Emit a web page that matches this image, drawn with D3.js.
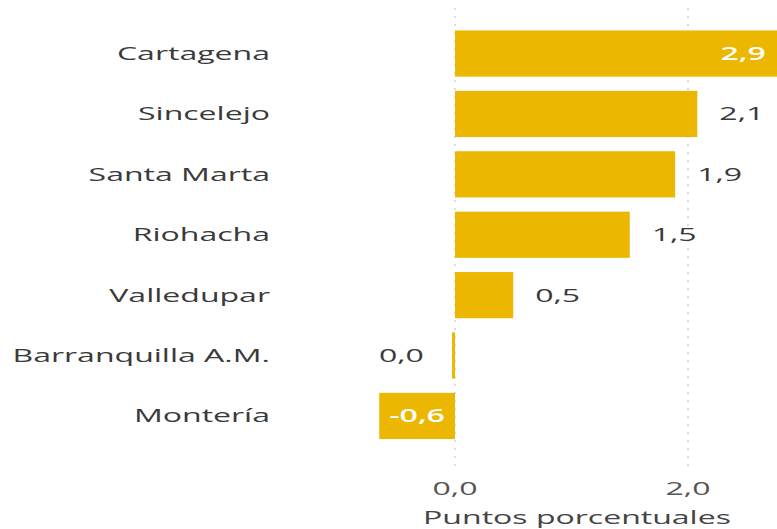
<!DOCTYPE html>
<html><head><meta charset="utf-8">
<script src="https://cdn.jsdelivr.net/npm/d3@7"></script>
<style>
html,body{margin:0;padding:0;background:#fff;}
svg{display:block;}
text{font-family:"Open Sans",sans-serif;}
</style></head>
<body>
<script>
const categories = ["Cartagena","Sincelejo","Santa Marta","Riohacha","Valledupar","Barranquilla A.M.","Montería"];
const values = [2.9, 2.08, 1.89, 1.5, 0.5, -0.01, -0.65];
const valueLabels = ["2,9","2,1","1,9","1,5","0,5","0,0","-0,6"];
const labelInside = [true,false,false,false,false,false,true];
const tickValues = [0, 2];
const tickLabels = ["0,0","2,0"];
const axisTitle = "Puntos porcentuales";

const W = 777, H = 529;
const SX = 1.78;
const svg = d3.select("body").append("svg").attr("width", W).attr("height", H);

const x = d3.scaleLinear().domain([0, 2]).range([455, 688]);
const y = d3.scaleBand().domain(categories).range([23.5, 446]).paddingInner(0.235).paddingOuter(0.115);

function stext(g, tx, ty, str, anchor, size, fill, weight){
  return g.append("text")
    .attr("transform", `translate(${tx},${ty}) scale(${SX},1)`)
    .attr("text-anchor", anchor)
    .attr("font-size", size)
    .attr("fill", fill)
    .attr("font-weight", weight || 400)
    .text(str);
}

// gridlines
const grid = svg.append("g");
tickValues.forEach(t => {
  grid.append("line")
    .attr("x1", x(t)).attr("x2", x(t))
    .attr("y1", 8).attr("y2", 466)
    .attr("stroke", "#c8c8c8").attr("stroke-width", 1.2)
    .attr("stroke-dasharray", "2,6");
});

const color = "#EBB700";
const data = categories.map((c,i)=>({c, v:values[i], l:valueLabels[i], inside:labelInside[i]}));

svg.append("g").selectAll("rect").data(data).join("rect")
  .attr("x", d => Math.min(x(d.v), x(0)) - (Math.abs(x(d.v)-x(0))<3 ? 3 - Math.abs(x(d.v)-x(0)) : 0))
  .attr("y", d => y(d.c))
  .attr("width", d => Math.max(3, Math.abs(x(d.v) - x(0))))
  .attr("height", y.bandwidth())
  .attr("fill", color);

const lab = svg.append("g");
data.forEach(d => {
  const cy = y(d.c) + y.bandwidth()/2 + 6.5;
  stext(lab, 270, cy, d.c, "end", 18, "#3a3a3a");
  if (d.inside) {
    if (d.v >= 0) stext(lab, x(d.v) - 27, cy, d.l, "end", 18, "#ffffff", 600);
    else stext(lab, x(d.v) + 10, cy, d.l, "start", 18, "#ffffff", 600);
  } else {
    if (d.v > 0) stext(lab, x(d.v) + 22, cy, d.l, "start", 18, "#3a3a3a");
    else stext(lab, x(Math.min(d.v,0)) - 30, cy, d.l, "end", 18, "#3a3a3a");
  }
});

tickValues.forEach((t,i) => {
  stext(svg, x(t), 495, tickLabels[i], "middle", 18, "#555");
});
stext(svg, 577, 524, axisTitle, "middle", 18, "#444");
</script>
</body></html>
